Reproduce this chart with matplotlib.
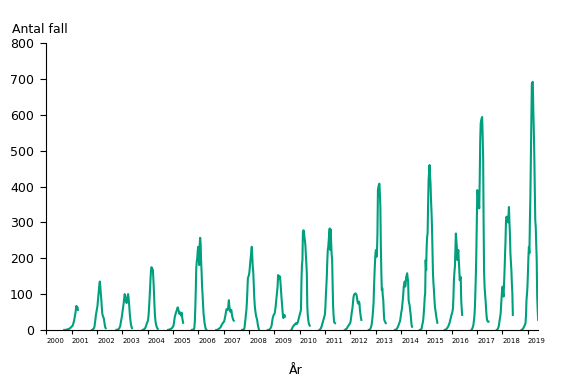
import numpy as np
import matplotlib
matplotlib.use("Agg")
import matplotlib.pyplot as plt

# weekly case counts per season; each season starts at (year, week) in start_weeks
start_weeks = [
    (2000, 37), (2001, 42), (2002, 40), (2003, 42), (2004, 42), (2005, 39),
    (2006, 37), (2007, 38), (2008, 39), (2009, 35), (2010, 41), (2011, 41),
    (2012, 38), (2013, 40), (2014, 39), (2015, 38), (2016, 41), (2017, 41),
    (2018, 40),
]
v2001 = [0, 0, 0, 0, 1, 1, 1, 2, 2, 3, 3, 4, 5, 6, 8, 9,
         10, 12, 15, 20, 25, 32, 40, 48, 58, 67, 62, 64, 56]
v2002 = [0, 1, 2, 3, 5, 9, 20, 30, 42, 50, 58,
         65, 80, 95, 111, 125, 135, 120, 102, 85, 65, 46, 40, 36, 33, 25, 15, 8, 5]
v2003 = [0, 0, 1, 1, 2, 3, 5, 8, 12, 20, 28, 35, 45,
         55, 65, 75, 88, 100, 95, 85, 78, 75, 80, 92, 100, 90, 75, 55, 37, 25, 15, 9, 5]
v2004 = [0, 1, 1, 2, 3, 5, 8, 12, 16, 20, 23,
         28, 40, 60, 85, 111, 140, 165, 175, 172, 170, 167, 140, 111, 75, 45, 28, 18, 12, 8, 5, 3]
v2005 = [0, 0, 1, 1, 2, 2, 3, 4, 5, 7, 9,
         11, 18, 28, 37, 42, 47, 51, 55, 60, 63, 58, 52, 46, 50, 44, 46, 40, 48, 35, 28, 20]
v2006 = [0, 0, 1, 1, 2, 5, 23, 60, 110, 172, 190, 200, 220, 232,
         200, 181, 237, 257, 240, 190, 160, 120, 97, 70, 45, 33, 20, 12, 5, 2, 0]
v2007 = [0, 0, 0, 1, 2, 3, 4, 5, 6, 8, 10, 14, 16, 18, 20, 22,
         23, 28, 35, 42, 50, 58, 57, 56, 56, 70, 83, 65, 58, 51, 54, 56, 45, 37, 32, 28, 26]
v2008 = [0, 0, 1, 1, 2, 5, 19, 30, 45, 56, 80, 110, 145, 148, 153,
         160, 175, 190, 204, 220, 232, 205, 176, 162, 130, 93, 70, 56, 46, 38, 33, 28, 18, 10, 5, 0]
v2009 = [0, 0, 0, 1, 2, 4, 6, 9, 15, 25, 33, 38, 42, 44,
         46, 55, 65, 80, 93, 108, 121, 153, 145, 144, 150, 148, 130, 111, 90, 74, 55, 40, 33, 38, 42, 37]
v2010 = [0, 2, 5, 8, 10, 12, 14, 14, 16, 18, 19, 18, 17, 20, 24, 30, 35, 40,
         46, 50, 56, 139, 180, 195, 274, 278, 276, 260, 251, 237, 210, 186, 158, 65, 40, 28, 19, 15, 12]
v2011 = [0, 1, 3, 5, 9, 12, 19, 22, 28, 32, 38, 42,
         60, 93, 120, 148, 190, 223, 232, 250, 270, 283, 223, 280, 241, 210, 195, 125, 65, 40, 23, 20, 19]
v2012 = [0, 1, 2, 3, 4, 6, 9, 11, 13, 15, 17, 19,
         25, 35, 46, 55, 65, 80, 93, 98, 100, 101, 102, 100, 98, 90, 80, 74, 74, 79, 75, 56, 45, 35, 28]
v2013 = [0, 0, 1, 2, 5, 9, 14, 25, 37, 55, 74, 120, 158, 190, 215,
         223, 204, 215, 269, 390, 399, 405, 408, 380, 343, 232, 160, 111, 116, 95, 83, 50, 28, 25, 22, 19]
v2014 = [0, 0, 1, 2, 4, 6, 9, 12, 16, 20, 23, 30, 40,
         50, 56, 70, 83, 100, 121, 128, 135, 121, 130, 148, 152, 158, 145, 135, 83, 75, 70, 55, 46, 30, 15, 9]
v2015 = [0, 0, 1, 2, 6, 14, 20, 28, 45, 65, 90, 102, 195, 167,
         230, 260, 269, 350, 418, 440, 460, 430, 408, 362, 330, 288, 223, 158, 130, 111, 85, 65, 55, 46, 35, 28, 20]
v2016 = [0, 0, 1, 2, 3, 5, 7, 9, 12, 16, 19, 25, 30, 36, 42,
         46, 51, 60, 90, 139, 160, 176, 220, 269, 250, 232, 195, 210, 223, 195, 170, 139, 145, 148, 83, 60, 42]
v2017 = [0, 2, 5, 9, 14, 25, 37, 60, 102, 150, 214, 300,
         390, 380, 371, 355, 339, 420, 529, 576, 585, 590, 594, 540, 483, 297, 158, 120, 100, 83, 60, 40, 28, 25, 23, 23]
v2018 = [0, 1, 3, 6, 10, 19, 28, 37, 46, 70, 93, 110,
         121, 100, 93, 130, 167, 210, 251, 306, 316, 311, 306, 300, 320, 343, 300, 269, 214, 190, 167, 130, 102, 42]
v2019 = [0, 1, 2, 4, 6, 9, 12, 15, 19, 40, 83, 100, 121,
         160, 204, 232, 214, 300, 371, 480, 585, 687, 690, 692, 613, 560, 492, 400, 306, 288, 240, 195, 93, 55, 28]
season_values = [v2001, v2002, v2003, v2004, v2005, v2006, v2007, v2008, v2009, v2010,
                 v2011, v2012, v2013, v2014, v2015, v2016, v2017, v2018, v2019]
years = list(range(2000, 2020))

COLOR = "#00A07E"

fig = plt.figure(figsize=(5.67, 3.85), dpi=100)
ax = fig.add_axes([0.082, 0.143, 0.867, 0.745])

for (y0, w0), vals in zip(start_weeks, season_values):
    x = []
    yr, wk = y0, w0
    for _ in vals:
        x.append(yr + (wk - 0.5) / 52)
        wk += 1
        if wk > 52:
            wk = 1
            yr += 1
    ax.plot(x, vals, color=COLOR, lw=1.5, solid_joinstyle="round")

ax.set_xlim(2000, 2019.41)
ax.set_ylim(0, 800)
ax.set_yticks(range(0, 801, 100))
ax.set_xticks(years)
ax.set_xticklabels([str(y) for y in years], ha="left", fontsize=5)
ax.tick_params(axis="y", labelsize=9, length=4, width=0.8, pad=5)
ax.tick_params(axis="x", length=3, width=0.8, pad=3)
ax.spines[["top", "right"]].set_visible(False)
for s in ("left", "bottom"):
    ax.spines[s].set_linewidth(0.8)

fig.text(12 / 567, 1 - 33 / 385, "Antal fall", fontsize=9, va="baseline", ha="left")
fig.text(296 / 567, 1 - 371 / 385, "År", fontsize=9, va="center", ha="center")

fig.savefig("out.png", dpi=100)
